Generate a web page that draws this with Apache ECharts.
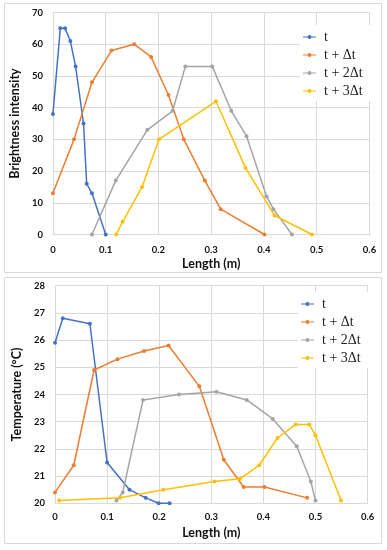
<!DOCTYPE html>
<html>
<head>
<meta charset="utf-8">
<script src="https://cdn.jsdelivr.net/npm/echarts@6/dist/echarts.min.js"></script>
<style>
html,body{margin:0;padding:0;background:#fff;}
#chart{width:387px;height:550px;}
</style>
</head>
<body>
<div id="chart"></div>
<script>
// Series names
const seriesNames = ['t', 't + \u0394t', 't + 2\u0394t', 't + 3\u0394t'];
const colors = ['#4472C4', '#ED7D31', '#A5A5A5', '#FFC000'];

// Top chart: Brightness intensity vs Length (m)
const brightT  = [[0,38],[0.014,65],[0.023,65],[0.033,61],[0.043,53],[0.058,35],[0.064,16],[0.074,13],[0.100,0]];
const brightT1 = [[0,13],[0.040,30],[0.074,48],[0.111,58],[0.154,60],[0.186,56],[0.219,44],[0.248,30],[0.288,17],[0.318,8],[0.401,0]];
const brightT2 = [[0.074,0],[0.119,17],[0.179,33],[0.227,39],[0.251,53],[0.302,53],[0.338,39],[0.367,31],[0.405,12],[0.418,8],[0.453,0]];
const brightT3 = [[0.120,0],[0.132,4],[0.169,15],[0.201,30],[0.309,42],[0.365,21],[0.420,6],[0.491,0]];

// Bottom chart: Temperature (°C) vs Length (m)
const tempT  = [[0,25.9],[0.015,26.8],[0.067,26.6],[0.100,21.5],[0.143,20.5],[0.174,20.2],[0.199,20.0],[0.220,20.0]];
const tempT1 = [[0,20.4],[0.036,21.4],[0.075,24.9],[0.120,25.3],[0.171,25.6],[0.218,25.8],[0.277,24.3],[0.324,21.6],[0.362,20.6],[0.402,20.6],[0.484,20.2]];
const tempT2 = [[0.118,20.1],[0.130,20.4],[0.169,23.8],[0.238,24.0],[0.310,24.1],[0.368,23.8],[0.418,23.1],[0.464,22.1],[0.491,20.8],[0.500,20.1]];
const tempT3 = [[0.008,20.1],[0.125,20.2],[0.208,20.5],[0.306,20.8],[0.355,20.9],[0.392,21.4],[0.427,22.4],[0.462,22.9],[0.488,22.9],[0.500,22.5],[0.549,20.1]];

// Axis settings
const xTitle = 'Length (m)';
const yTitleTop = 'Brightness intensity';
const yTitleBottom = 'Temperature (\u00B0C)';

const chart = echarts.init(document.getElementById('chart'), null, {renderer: 'canvas'});
const FONT = 'Lato';
const gridColor = '#d9d9d9';
const labelStyle = {fontFamily: FONT, fontWeight: 'bold', fontSize: 9.5, color: '#111'};
const nameStyle = {fontFamily: FONT, fontWeight: 'bold', fontSize: 12.5, color: '#111'};
const legendIcon = 'path://M0,2 L13,2 L13,3 L0,3 Z M4.5,2.5 A2,2 0 1 1 8.5,2.5 A2,2 0 1 1 4.5,2.5 Z';

function xAxisCfg(gridIndex, gap, margin) {
  return {
    type: 'value', gridIndex, min: 0, max: 0.6, interval: 0.1,
    name: xTitle, nameLocation: 'middle', nameGap: gap, nameTextStyle: nameStyle,
    axisLine: {show: true, lineStyle: {color: gridColor}},
    axisTick: {show: false},
    axisLabel: Object.assign({margin: margin}, labelStyle),
    splitLine: {show: true, lineStyle: {color: gridColor, width: 1}}
  };
}
function yAxisCfg(gridIndex, min, max, interval, name, gap) {
  return {
    type: 'value', gridIndex, min, max, interval,
    name, nameLocation: 'middle', nameGap: gap, nameRotate: 90, nameTextStyle: nameStyle,
    axisLine: {show: false}, axisTick: {show: false},
    axisLabel: Object.assign({margin: 10}, labelStyle),
    splitLine: {show: true, lineStyle: {color: gridColor, width: 1}}
  };
}
function mkSeries(data, i, axisIdx) {
  return {
    type: 'line', name: seriesNames[i], data,
    xAxisIndex: axisIdx, yAxisIndex: axisIdx,
    symbol: 'circle', symbolSize: 4, showSymbol: true,
    lineStyle: {color: colors[i], width: 1.5},
    itemStyle: {color: colors[i]},
    z: 3
  };
}
function legendCfg(left, top) {
  return {
    data: seriesNames.map(n => ({name: n, icon: legendIcon})),
    left, top, orient: 'vertical',
    backgroundColor: '#fff', padding: [5, 8, 3, 3],
    itemWidth: 13, itemHeight: 5, itemGap: 4,
    textStyle: {fontFamily: 'Liberation Serif', fontSize: 14, color: '#222', padding: [0,0,0,3]},
    selectedMode: false
  };
}

const option = {
  animation: false,
  backgroundColor: '#fff',
  color: colors,
  graphic: [
    {type: 'rect', shape: {x: 4.5, y: 3.5, width: 377, height: 269}, style: {fill: 'none', stroke: '#d9d9d9', lineWidth: 1}, silent: true, z: -1},
    {type: 'rect', shape: {x: 4.5, y: 277.5, width: 377, height: 266}, style: {fill: 'none', stroke: '#d9d9d9', lineWidth: 1}, silent: true, z: -1}
  ],
  grid: [
    {left: 50, top: 12.5, width: 319.5, height: 222},
    {left: 55, top: 285.7, width: 312.6, height: 217.6}
  ],
  xAxis: [xAxisCfg(0, 22.5, 10), xAxisCfg(1, 23, 9)],
  yAxis: [
    yAxisCfg(0, 0, 70, 10, yTitleTop, 26),
    yAxisCfg(1, 20, 28, 1, yTitleBottom, 29)
  ],
  legend: [legendCfg(300, 25), legendCfg(298, 292)],
  series: [
    mkSeries(brightT, 0, 0), mkSeries(brightT1, 1, 0), mkSeries(brightT2, 2, 0), mkSeries(brightT3, 3, 0),
    mkSeries(tempT, 0, 1), mkSeries(tempT1, 1, 1), mkSeries(tempT2, 2, 1), mkSeries(tempT3, 3, 1)
  ]
};
chart.setOption(option);
</script>
</body>
</html>
